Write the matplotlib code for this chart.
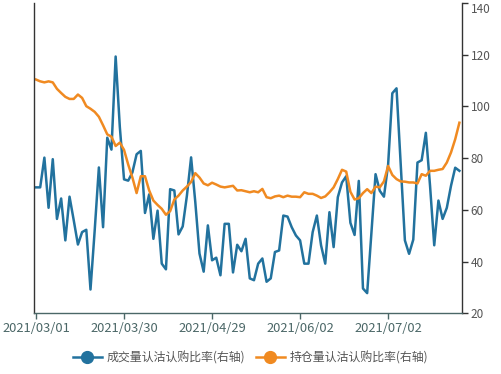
import numpy as np
import pandas as pd
import matplotlib
matplotlib.use("Agg")
import matplotlib.pyplot as plt
from matplotlib.lines import Line2D

plt.rcParams['font.family'] = ['Noto Sans CJK SC', 'DejaVu Sans']

# trading calendar (category axis)
holidays = ["2021-04-05", "2021-05-03", "2021-05-04", "2021-05-05", "2021-06-14"]
dates = pd.bdate_range("2021-03-01", "2021-07-27", freq="C", holidays=holidays)
date_labels = [d.strftime("%Y/%m/%d") for d in dates]

series_names = ["成交量认沽认购比率(右轴)", "持仓量认沽认购比率(右轴)"]

volume_ratio = [
    68.7, 68.7, 80.2, 60.8, 79.6, 56.5, 64.4, 48.2, 65.1, 56.0,
    46.6, 51.4, 52.3, 29.2, 52.0, 76.4, 53.3, 87.9, 83.3, 119.3,
    92.0, 71.8, 71.3, 74.5, 81.5, 82.8, 58.8, 66.0, 48.8, 59.7,
    39.2, 37.0, 68.0, 67.5, 50.5, 53.6, 65.5, 80.3, 63.0, 43.1,
    36.1, 54.0, 40.5, 41.5, 34.7, 54.6, 54.6, 35.8, 46.5, 44.0,
    48.8, 33.5, 32.8, 39.2, 41.2, 32.2, 33.5, 43.7, 44.3, 57.8,
    57.4, 53.3, 50.1, 48.2, 39.2, 39.2, 51.4, 57.8, 46.3, 39.2,
    59.1, 45.6, 64.9, 70.6, 73.0, 55.0, 50.3, 71.2, 29.6, 27.8,
    50.8, 73.8, 67.4, 65.1, 77.5, 105.1, 107.0, 77.7, 48.2, 43.0,
    48.5, 78.3, 79.2, 89.8, 69.3, 46.3, 63.6, 56.5, 60.8, 69.3,
    76.3, 75.1,
]

oi_ratio = [
    110.4, 109.7, 109.3, 109.7, 109.3, 106.8, 105.2, 103.7, 102.9, 102.9,
    104.6, 103.3, 100.1, 99.1, 97.9, 96.0, 92.7, 89.2, 88.3, 84.7,
    86.0, 83.2, 77.5, 72.5, 66.5, 73.0, 73.0, 67.5, 63.6, 61.9,
    60.4, 58.1, 59.5, 64.0, 65.5, 67.5, 69.0, 70.8, 74.2, 72.5,
    70.2, 69.5, 70.5, 69.8, 69.0, 68.7, 69.0, 69.3, 67.5, 67.6,
    67.2, 66.8, 67.2, 66.8, 68.1, 64.9, 64.5, 65.2, 65.5, 64.9,
    65.5, 65.1, 65.1, 64.9, 66.8, 66.2, 66.2, 65.5, 64.6, 65.2,
    66.8, 68.7, 71.9, 75.5, 74.8, 67.0, 64.0, 64.5, 66.5, 68.0,
    66.5, 69.0, 68.7, 71.0, 77.0, 73.5, 71.9, 71.0, 70.9, 70.6,
    70.6, 70.2, 73.8, 73.2, 75.1, 75.1, 75.5, 75.8, 78.3, 82.2,
    87.3, 93.7,
]

y_ticks = [20, 40, 60, 80, 100, 120, 140]
label_interval = 21

blue = "#22729e"
orange = "#f08a21"
axis_col = "#333333"
label_col = "#4b6767"

fig = plt.figure(figsize=(5.01, 3.74), dpi=100)
ax = fig.add_axes([0.0685, 0.1623, 0.8543, 0.8297])

x = np.arange(len(date_labels))
ax.plot(x, volume_ratio, color=blue, lw=1.8, solid_joinstyle='round')
ax.plot(x, oi_ratio, color=orange, lw=1.8, solid_joinstyle='round')

ax.set_xlim(-0.4, len(date_labels) - 0.3)
ax.set_ylim(20, 140)

ax.yaxis.tick_right()
ax.set_yticks(y_ticks)
ax.set_yticklabels([str(v) for v in y_ticks])
ax.tick_params(axis='y', which='both', direction='out', length=4, width=1,
               color=axis_col, labelcolor="#555555", labelsize=8.5, pad=2)
for lbl in ax.get_yticklabels():
    if lbl.get_text() == "140":
        lbl.set_verticalalignment('top')

tick_pos = x[::label_interval]
ax.set_xticks(tick_pos)
ax.set_xticklabels([date_labels[i] for i in tick_pos])
ax.tick_params(axis='x', direction='out', length=4, width=1,
               color=label_col, labelcolor=label_col, labelsize=9.3, pad=2)

ax.spines['top'].set_visible(False)
ax.spines['left'].set_color(axis_col)
ax.spines['right'].set_color(axis_col)
ax.spines['bottom'].set_color(label_col)
for s in ['left', 'right', 'bottom']:
    ax.spines[s].set_linewidth(1)

handles = [
    Line2D([0], [0], color=blue, lw=1.8, marker='o', markersize=8.5),
    Line2D([0], [0], color=orange, lw=1.8, marker='o', markersize=8.5),
]
fig.legend(handles, series_names, loc='center', bbox_to_anchor=(0.5, 0.043),
           ncol=2, frameon=False, fontsize=8.6, handlelength=2.4,
           handletextpad=0.4, columnspacing=0.9, labelcolor="#555555")

fig.savefig("out.png", dpi=100)
